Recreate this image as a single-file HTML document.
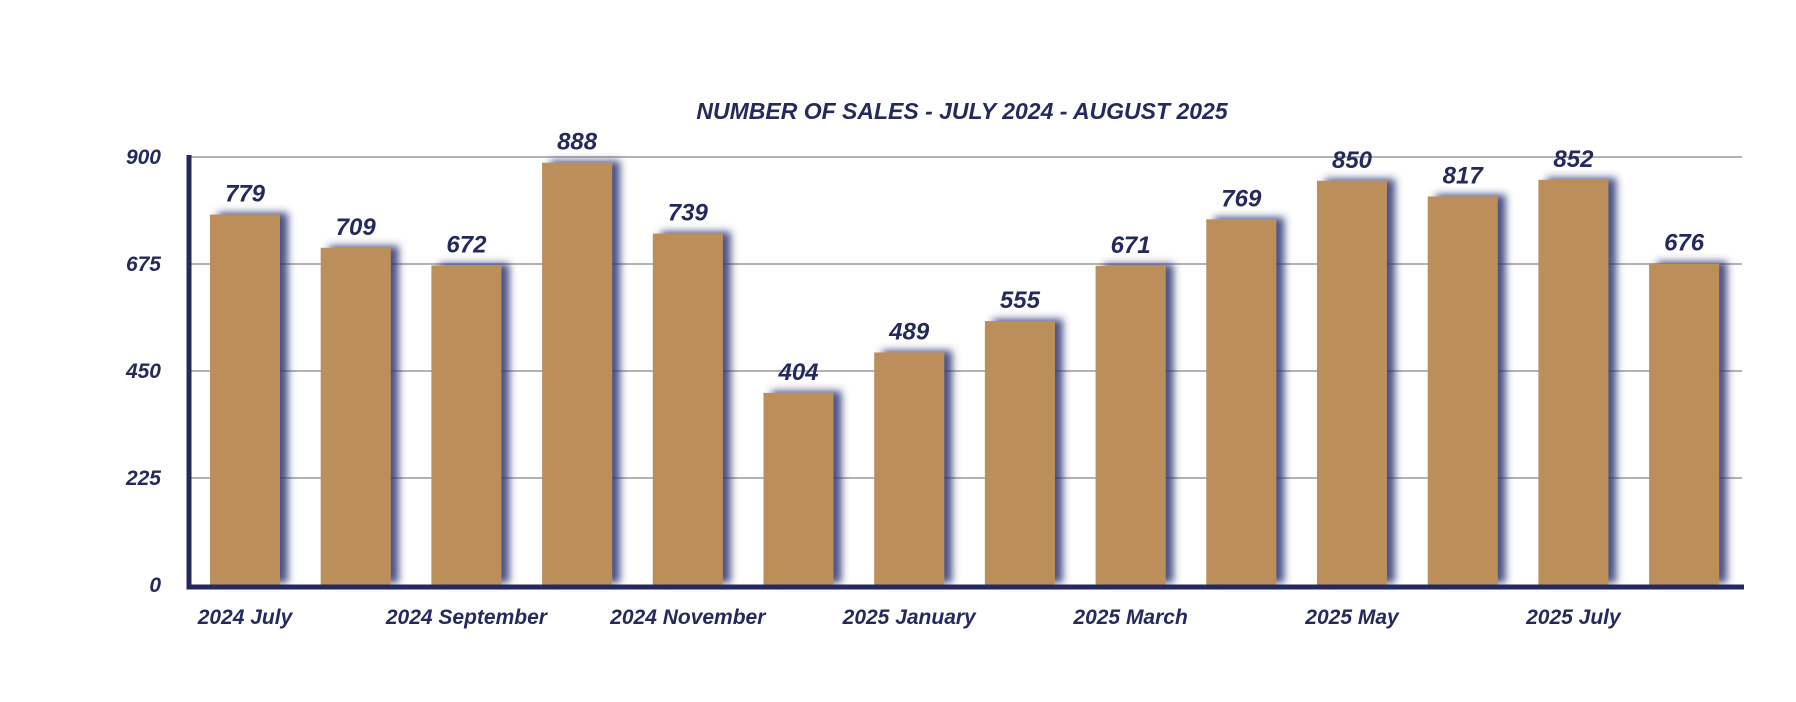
<!DOCTYPE html>
<html><head><meta charset="utf-8"><style>
body{margin:0;background:#fff;}
svg{display:block;font-family:"Liberation Sans",sans-serif;font-weight:bold;font-style:italic;}
</style></head><body>
<svg id="chart" width="1796" height="702" viewBox="0 0 1796 702">
<defs><filter id="sh" x="-30%" y="-10%" width="160%" height="120%"><feDropShadow dx="8" dy="-2" stdDeviation="4" flood-color="#2c3170" flood-opacity="0.85"/></filter></defs>
<text x="962" y="119" text-anchor="middle" font-size="23" fill="#252A5E">NUMBER OF SALES - JULY 2024 - AUGUST 2025</text>
<g id="grid"></g><g id="bars"></g><g id="labels"></g>
</svg>
<script>
const categories=["2024 July","2024 August","2024 September","2024 October","2024 November","2024 December","2025 January","2025 February","2025 March","2025 April","2025 May","2025 June","2025 July","2025 August"];
const values=[779,709,672,888,739,404,489,555,671,769,850,817,852,676];
const ticks=[0,225,450,675,900];
const NS="http://www.w3.org/2000/svg";
const x0=189,x1=1742,y0=585,yTop=157,maxV=900,pitch=110.7,firstLeft=210,barW=70;
const y=v=>y0-(v/maxV)*(y0-yTop);
const xb=i=>firstLeft+i*pitch;
function mk(t,a,p){const e=document.createElementNS(NS,t);for(const k in a)e.setAttribute(k,a[k]);p.appendChild(e);return e;}
const grid=document.getElementById('grid'),bars=document.getElementById('bars'),labels=document.getElementById('labels');
ticks.forEach(t=>{
 if(t>0){const l=mk('line',{x1:x0,x2:x1,y1:y(t),y2:y(t),stroke:'#b3b3b3','stroke-width':2},grid);
 
 }
 const tx=mk('text',{x:161,y:y(t)+7,'text-anchor':'end','font-size':21,fill:'#252A5E'},grid);tx.textContent=t;
 
 
});
values.forEach((v,i)=>{
 const r=mk('rect',{x:xb(i),y:y(v),width:barW,height:y0-y(v),fill:'#BC8F5A',filter:'url(#sh)'},bars);
 
 
 const t=mk('text',{x:xb(i)+barW/2,y:y(v)-13,'text-anchor':'middle','font-size':24,fill:'#252A5E'},labels);t.textContent=v;
 
 
 if(i%2===0){const c=mk('text',{x:xb(i)+barW/2,y:624,'text-anchor':'middle','font-size':21,fill:'#252A5E'},labels);c.textContent=categories[i];
 
 }
});
const ax=mk('path',{d:`M${x0} 155 V${y0+2} H${x1+2}`,stroke:'#252A5E','stroke-width':5,fill:'none'},labels);


</script>
</body></html>
